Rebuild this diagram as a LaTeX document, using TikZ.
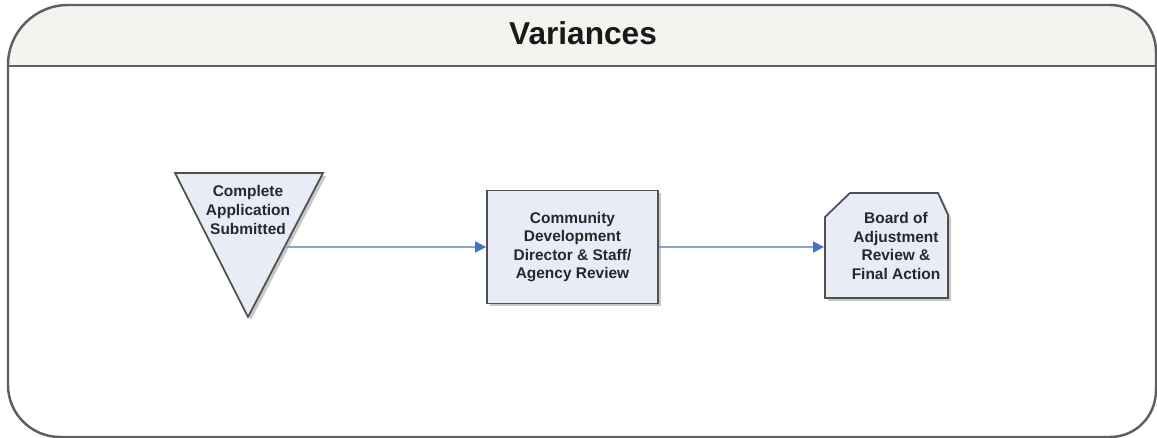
\documentclass[tikz,border=0pt]{standalone}
\usepackage{fontspec}
\setmainfont{Liberation Sans}
\usetikzlibrary{arrows.meta,positioning}
\definecolor{frameline}{RGB}{95,95,95}
\definecolor{bandfill}{RGB}{243,243,239}
\definecolor{boxline}{RGB}{80,80,80}
\definecolor{boxfill}{RGB}{232,236,246}
\definecolor{boxshade}{RGB}{200,200,200}
\definecolor{flowline}{RGB}{143,162,212}
\definecolor{flowtip}{RGB}{68,114,196}
\definecolor{labeltext}{RGB}{40,40,40}
\begin{document}
\begin{tikzpicture}[
  x=0.02cm, y=-0.02cm,
  every node/.style={font=\bfseries\fontsize{8.8}{10.6}\selectfont, align=center, text=labeltext, inner sep=0pt},
  shapefill/.style={draw=boxline, fill=boxfill, line width=1pt},
  stepbox/.style={shapefill, minimum width=3.42cm, minimum height=2.26cm},
  flow/.style={draw=flowline, line width=1.1pt, -{Triangle[length=0.22cm, width=0.22cm, color=flowtip]}}
]
\useasboundingbox (0,0) rectangle (1157,438);
\fill[bandfill] (8,66) -- (8,65) .. controls (8,31.9) and (34.9,5) .. (68,5) -- (1110,5)
  .. controls (1136,5) and (1156,26) .. (1156,52) -- (1156,66) -- cycle;
\draw[frameline, line width=1.4pt] (8,65) .. controls (8,31.9) and (34.9,5) .. (68,5) -- (1110,5)
  .. controls (1136,5) and (1156,26) .. (1156,52) -- (1156,390)
  .. controls (1156,416) and (1136,437) .. (1110,437) -- (60,437)
  .. controls (31.3,437) and (8,413.7) .. (8,385) -- cycle;
\draw[frameline, line width=1.3pt] (8,66) -- (1156,66);
\node[font=\bfseries\fontsize{18}{21}\selectfont, text=black!90] (title) at (583,33.5) {Variances};

\fill[boxshade] (178,176) -- (326,176) -- (251,320) -- cycle;
\draw[shapefill] (175,173) -- (323,173) -- (248,317) -- cycle;
\node (app) at (248,210) {Complete\\Application\\Submitted};
\coordinate (appout) at (285,247);

\fill[boxshade] (490,193) rectangle (661,306);
\node[stepbox] (cdd) at (572.5,247) {Community\\Development\\Director \& Staff/\\Agency Review};

\fill[boxshade] (828,220) -- (853,196) -- (941,196) -- (951,218) -- (951,301) -- (828,301) -- cycle;
\draw[shapefill] (825,217) -- (850,193) -- (938,193) -- (948,215) -- (948,298) -- (825,298) -- cycle;
\node (brd) at (896,246) {Board of\\Adjustment\\Review \&\\Final Action};
\coordinate (brdin) at (824,247);

\draw[flow] (appout) -- (cdd.west);
\draw[flow] (cdd.east) -- (brdin);
\end{tikzpicture}
\end{document}
